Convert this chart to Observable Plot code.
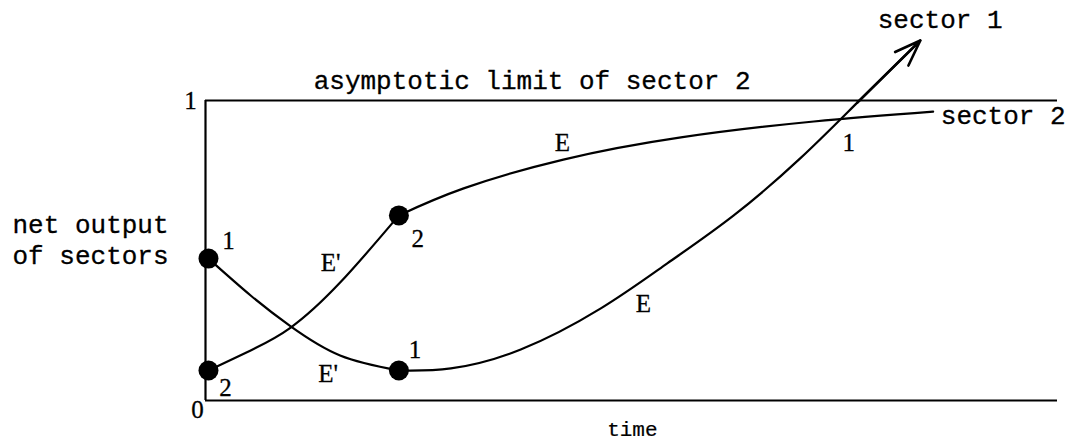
<!DOCTYPE html>
<html>
<head>
<meta charset="utf-8">
<script src="https://cdn.jsdelivr.net/npm/d3@7"></script>
<script src="https://cdn.jsdelivr.net/npm/@observablehq/plot@0.6"></script>
<style>
  html, body { margin: 0; padding: 0; background: #fff; }
  #chart svg { display: block; }
</style>
</head>
<body>
<div id="chart"></div>
<script>
// time (arbitrary units) and net output (0..1, asymptotic limit of sector 2 = 1)
const sector1Early = [
  {t: 0.035, v: 0.473}, {t: 0.53, v: 0.35}, {t: 1.0, v: 0.247}, {t: 1.58, v: 0.15}, {t: 2.27, v: 0.10}
];
const sector1Late = [
  {t: 2.27, v: 0.10}, {t: 2.88, v: 0.107}, {t: 3.70, v: 0.17}, {t: 4.64, v: 0.307},
  {t: 5.42, v: 0.457}, {t: 6.20, v: 0.617}, {t: 6.98, v: 0.807}, {t: 7.65, v: 0.993},
  {t: 8.39, v: 1.20}
];
const sector2Early = [
  {t: 0.035, v: 0.10}, {t: 0.53, v: 0.167}, {t: 1.0, v: 0.243}, {t: 1.58, v: 0.393}, {t: 2.27, v: 0.617}
];
const sector2Late = [
  {t: 2.27, v: 0.617}, {t: 3.03, v: 0.707}, {t: 4.20, v: 0.803}, {t: 5.58, v: 0.877},
  {t: 7.14, v: 0.93}, {t: 8.54, v: 0.963}
];
const states = [
  {t: 0.035, v: 0.473}, {t: 0.035, v: 0.10}, {t: 2.27, v: 0.617}, {t: 2.27, v: 0.10}
];
const pointLabels = [
  {t: 0.27, v: 0.533, text: "1"}, {t: 0.235, v: 0.043, text: "2"},
  {t: 2.49, v: 0.54, text: "2"}, {t: 2.46, v: 0.167, text: "1"},
  {t: 1.47, v: 0.457, text: "E'"}, {t: 1.44, v: 0.09, text: "E'"},
  {t: 4.19, v: 0.857, text: "E"}, {t: 5.14, v: 0.323, text: "E"},
  {t: 7.55, v: 0.857, text: "1"}
];
const tickLabels = [
  {t: -0.176, v: 1.0, text: "1"}, {t: -0.094, v: -0.033, text: "0"}
];
const monoLabels = [
  {t: 1.27, v: 1.067, text: "asymptotic limit of sector 2"},
  {t: 7.89, v: 1.27, text: "sector 1"},
  {t: 8.63, v: 0.95, text: "sector 2"},
  {t: -2.265, v: 0.587, text: "net output"},
  {t: -2.265, v: 0.483, text: "of sectors"}
];
const timeLabel = [{t: 5.01, v: -0.097, text: "time"}];
const limit = [1];

const tipPair = [{from: sector1Late[sector1Late.length - 2], to: sector1Late[sector1Late.length - 1]}];

const mono = "'Liberation Mono', 'DejaVu Sans Mono', monospace";
const serif = "'Liberation Serif', 'DejaVu Serif', serif";

const chart = Plot.plot({
  width: 1068,
  height: 442,
  marginLeft: 205,
  marginRight: 11,
  marginTop: 100,
  marginBottom: 42,
  x: {domain: [0, 10], axis: null},
  y: {domain: [0, 1], axis: null},
  marks: [
    Plot.ruleY([0], {stroke: "#000", strokeWidth: 2}),
    Plot.ruleY(limit, {stroke: "#000", strokeWidth: 2.2}),
    Plot.ruleX([0], {y1: 0, y2: 1, stroke: "#000", strokeWidth: 2.2}),
    Plot.line(sector1Early, {x: "t", y: "v", curve: "natural", stroke: "#000", strokeWidth: 2.2}),
    Plot.line(sector1Late, {x: "t", y: "v", curve: "natural", stroke: "#000", strokeWidth: 2.2}),
    Plot.line(sector2Early, {x: "t", y: "v", curve: "natural", stroke: "#000", strokeWidth: 2.2}),
    Plot.line(sector2Late, {x: "t", y: "v", curve: "natural", stroke: "#000", strokeWidth: 2.2}),
    Plot.arrow(tipPair, {
      x1: d => d.from.t, y1: d => d.from.v, x2: d => d.to.t, y2: d => d.to.v,
      stroke: "#000", strokeWidth: 2.6, headLength: 16, headAngle: 40
    }),
    Plot.dot(states, {x: "t", y: "v", r: 10, fill: "#000", stroke: "none"}),
    Plot.text(pointLabels, {x: "t", y: "v", text: "text", fontFamily: serif, fontSize: 25, fill: "#000", stroke: "#000", strokeWidth: 0.3}),
    Plot.text(tickLabels, {x: "t", y: "v", text: "text", fontFamily: serif, fontSize: 25, fill: "#000", stroke: "#000", strokeWidth: 0.3}),
    Plot.text(monoLabels, {x: "t", y: "v", text: "text", textAnchor: "start", fontFamily: mono, fontSize: 26, fill: "#000", stroke: "#000", strokeWidth: 0.3}),
    Plot.text(timeLabel, {x: "t", y: "v", text: "text", fontFamily: mono, fontSize: 21, fill: "#000", stroke: "#000", strokeWidth: 0.2})
  ]
});
document.getElementById("chart").append(chart);
</script>
</body>
</html>
